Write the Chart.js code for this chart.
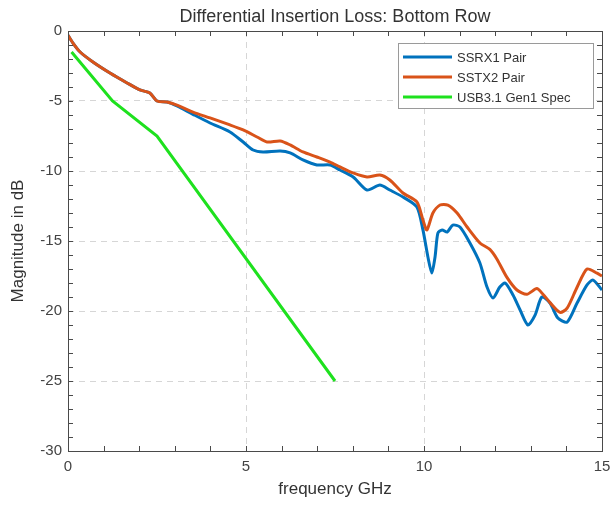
<!DOCTYPE html>
<html><head><meta charset="utf-8">
<script src="https://cdn.jsdelivr.net/npm/chart.js@4"></script>
<style>html,body{margin:0;padding:0;background:#fff}#wrap{width:611px;height:505px}</style>
</head><body><div id="wrap"><canvas id="c" width="611" height="505"></canvas></div>
<script>
const seriesNames = ['SSRX1 Pair', 'SSTX2 Pair', 'USB3.1 Gen1 Spec'];

const rxFreq = [0, 0.14, 0.34, 0.70, 1.18, 1.66, 2.02, 2.30, 2.50, 2.78, 3.06, 3.51, 3.99, 4.55, 4.92, 5.2, 5.48, 5.96, 6.24, 6.60, 6.99, 7.36, 7.64, 8.01, 8.40, 8.76, 9.04, 9.41, 9.80, 9.97, 10.11, 10.22, 10.31, 10.39, 10.51, 10.65, 10.81, 11.01, 11.29, 11.57, 11.77, 11.94, 12.13, 12.28, 12.5, 12.70, 12.92, 13.12, 13.31, 13.54, 13.76, 14.02, 14.30, 14.58, 14.75, 15.0];
const rxDb = [-0.3, -0.86, -1.5, -2.21, -3.0, -3.71, -4.21, -4.43, -5.0, -5.07, -5.35, -5.95, -6.57, -7.21, -7.93, -8.5, -8.64, -8.57, -8.71, -9.21, -9.57, -9.57, -9.93, -10.43, -11.36, -11.0, -11.36, -11.86, -12.57, -14.21, -16.14, -17.29, -16.14, -14.43, -14.21, -14.36, -13.86, -14.0, -15.14, -16.57, -18.29, -19.07, -18.29, -18.0, -18.86, -19.93, -21.0, -20.29, -19.0, -19.43, -20.5, -20.79, -19.43, -18.14, -17.79, -18.5];

const txFreq = [0, 0.14, 0.34, 0.70, 1.18, 1.66, 2.02, 2.30, 2.50, 2.78, 3.06, 3.51, 3.99, 4.55, 4.92, 5.31, 5.59, 5.96, 6.24, 6.60, 6.99, 7.36, 7.64, 8.01, 8.40, 8.76, 9.04, 9.41, 9.80, 9.97, 10.08, 10.25, 10.45, 10.67, 10.93, 11.21, 11.57, 11.85, 12.05, 12.33, 12.61, 12.89, 13.17, 13.34, 13.54, 13.82, 14.02, 14.30, 14.58, 14.86, 15.0];
const txDb = [-0.3, -0.86, -1.5, -2.21, -3.0, -3.71, -4.21, -4.43, -5.0, -5.07, -5.29, -5.79, -6.21, -6.71, -7.07, -7.57, -7.93, -7.86, -8.14, -8.64, -9.0, -9.36, -9.71, -10.14, -10.43, -10.29, -10.64, -11.57, -12.21, -13.5, -14.21, -13.0, -12.43, -12.43, -13.0, -14.0, -15.14, -15.6, -16.3, -17.6, -18.5, -18.8, -18.4, -18.8, -19.4, -20.1, -19.8, -18.3, -17.0, -17.3, -17.5];

const specFreq = [0.1, 1.25, 2.5, 7.5];
const specDb = [-1.5, -5, -7.5, -25];

const xTickValues = [0, 5, 10, 15];
const yTickValues = [0, -5, -10, -15, -20, -25, -30];

const pts = (xs, ys) => xs.map((x, i) => ({x: x, y: ys[i]}));
const FONT = "'Liberation Sans', Arial, Helvetica, sans-serif";

const boxPlugin = {
  id: 'boxTicks',
  afterDatasetsDraw(chart) {
    const {ctx, chartArea: ca, scales} = chart;
    ctx.save();
    ctx.strokeStyle = '#4a4a4a';
    ctx.lineWidth = 1;
    ctx.beginPath();
    for (let v = 1; v < 15; v++) {
      const px = Math.round(scales.x.getPixelForValue(v)) + 0.5;
      ctx.moveTo(px, ca.bottom); ctx.lineTo(px, ca.bottom - 5);
      ctx.moveTo(px, ca.top); ctx.lineTo(px, ca.top + 5);
    }
    for (let v = -29; v < 0; v++) {
      const py = Math.round(scales.y.getPixelForValue(v)) + 0.5;
      ctx.moveTo(ca.left, py); ctx.lineTo(ca.left + 5, py);
      ctx.moveTo(ca.right, py); ctx.lineTo(ca.right - 5, py);
    }
    ctx.stroke();
    ctx.strokeRect(Math.round(ca.left) + 0.5, Math.round(ca.top) + 0.5, Math.round(ca.right - ca.left), Math.round(ca.bottom - ca.top));
    ctx.restore();
  },
  afterDraw(chart) {
    const {ctx, chartArea: ca} = chart;
    const w = 195, h = 65;
    const x = Math.round(ca.right - 9 - w), y = Math.round(ca.top + 12);
    ctx.save();
    ctx.fillStyle = '#fff';
    ctx.fillRect(x, y, w, h);
    ctx.strokeStyle = '#9a9a9a';
    ctx.lineWidth = 1;
    ctx.strokeRect(x + 0.5, y + 0.5, w, h);
    ctx.font = '13px ' + FONT;
    ctx.textBaseline = 'middle';
    ctx.textAlign = 'left';
    chart.data.datasets.forEach((ds, i) => {
      const yy = y + 14 + i * 20;
      ctx.strokeStyle = ds.borderColor;
      ctx.lineWidth = 3;
      ctx.beginPath(); ctx.moveTo(x + 5, yy); ctx.lineTo(x + 54, yy); ctx.stroke();
      ctx.fillStyle = '#333';
      ctx.fillText(ds.label, x + 59, yy + 1);
    });
    ctx.restore();
  }
};

new Chart(document.getElementById('c'), {
  type: 'line',
  data: {
    datasets: [
      {label: seriesNames[0], data: pts(rxFreq, rxDb), borderColor: 'rgb(0,114,189)', borderWidth: 3, pointRadius: 0, tension: 0.25, order: 1},
      {label: seriesNames[1], data: pts(txFreq, txDb), borderColor: 'rgb(217,83,25)', borderWidth: 3, pointRadius: 0, tension: 0.25, order: 0},
      {label: seriesNames[2], data: pts(specFreq, specDb), borderColor: 'rgb(30,225,30)', borderWidth: 3, pointRadius: 0, tension: 0, order: 2}
    ]
  },
  options: {
    responsive: false,
    animation: false,
    layout: {padding: {left: 0, right: 9, top: 0, bottom: 0}},
    plugins: {
      legend: {display: false},
      tooltip: {enabled: false},
      title: {display: true, fullSize: false, text: 'Differential Insertion Loss: Bottom Row', color: '#333', font: {family: FONT, size: 18, weight: 'normal'}, padding: {top: 6, bottom: 3.4}}
    },
    scales: {
      x: {
        type: 'linear', min: 0, max: 15,
        afterFit: s => { s.height = 54; s.paddingRight = 0; s.paddingLeft = 0; },
        afterBuildTicks: s => { s.ticks = xTickValues.map(v => ({value: v})); },
        ticks: {font: {family: FONT, size: 15}, color: '#444', padding: 7, maxRotation: 0},
        grid: {drawTicks: false, color: c => (c.tick && (c.tick.value === 0 || c.tick.value === 15)) ? 'rgba(0,0,0,0)' : '#d6d6d6', lineWidth: 1},
        border: {display: false, dash: [6, 5]},
        title: {display: true, text: 'frequency GHz', color: '#333', font: {family: FONT, size: 17}, padding: {top: 0, bottom: 5}}
      },
      y: {
        type: 'linear', min: -30, max: 0,
        afterFit: s => { s.width = 68; },
        afterBuildTicks: s => { s.ticks = yTickValues.slice().reverse().map(v => ({value: v})); },
        ticks: {font: {family: FONT, size: 15}, color: '#444', padding: 6},
        grid: {drawTicks: false, color: c => (c.tick && (c.tick.value === 0 || c.tick.value === -30)) ? 'rgba(0,0,0,0)' : '#d6d6d6', lineWidth: 1},
        border: {display: false, dash: [6, 5]},
        title: {display: true, text: 'Magnitude in dB', color: '#333', font: {family: FONT, size: 17}, padding: {top: 8, bottom: 0}}
      }
    }
  },
  plugins: [boxPlugin]
});
</script>
</body></html>
